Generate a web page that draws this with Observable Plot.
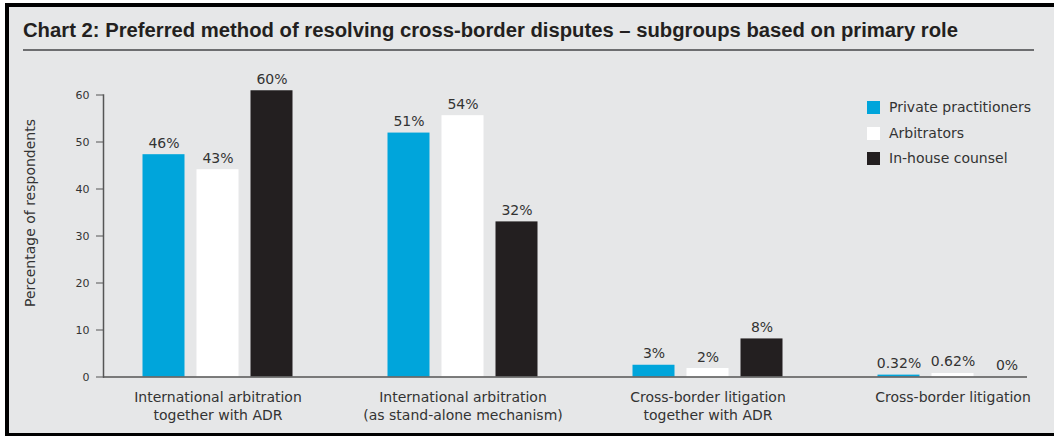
<!DOCTYPE html>
<html><head><meta charset="utf-8">
<script src="https://cdn.jsdelivr.net/npm/d3@7"></script>
<script src="https://cdn.jsdelivr.net/npm/@observablehq/plot@0.6"></script>
<style>
body{margin:0;width:1054px;height:436px;position:relative;background:#fff;overflow:hidden;font-family:"DejaVu Sans",sans-serif;}
#frame{position:absolute;left:5px;top:3px;width:1045px;height:426px;background:#e6e7e8;border-top:4px solid #000;border-left:4px solid #000;border-bottom:3px solid #000;}
#title{position:absolute;left:23px;top:20px;font-family:"Liberation Sans",Arial,sans-serif;font-weight:bold;font-size:20px;line-height:20px;color:#231f20;white-space:nowrap;transform-origin:0 0;}
#rule{position:absolute;left:23px;top:49px;width:1011px;height:2px;background:#6d6e70;}
#chart{position:absolute;left:0;top:0;}
#ylabel{position:absolute;left:30px;top:212.5px;transform:translate(-50%,-50%) rotate(-90deg);white-space:nowrap;font-size:14px;color:#333;}
.leg{position:absolute;left:867px;font-size:14px;color:#333;white-space:nowrap;line-height:14px;}
.leg span.sw{position:absolute;left:0;top:0;width:13px;height:13px;}
.leg span.tx{position:absolute;left:22px;top:-1px;}
</style></head>
<body>
<div id="frame"></div>
<div id="title">Chart 2: Preferred method of resolving cross-border disputes – subgroups based on primary role</div>
<div id="rule"></div>
<div id="chart"></div>
<div id="ylabel">Percentage of respondents</div>
<div id="legend"></div>
<script>
const categories = [
  "International arbitration\ntogether with ADR",
  "International arbitration\n(as stand-alone mechanism)",
  "Cross-border litigation\ntogether with ADR",
  "Cross-border litigation"
];
const series = ["Private practitioners", "Arbitrators", "In-house counsel"];
const seriesColors = ["#00a5db", "#ffffff", "#231f20"];
// bar heights as drawn
const privateValues = [47.3, 51.9, 2.5, 0.4];
const arbitratorValues = [44.1, 55.6, 1.8, 0.75];
const inhouseValues = [60.9, 33.0, 8.1, 0];
// printed labels
const privateLabels = ["46%", "51%", "3%", "0.32%"];
const arbitratorLabels = ["43%", "54%", "2%", "0.62%"];
const inhouseLabels = ["60%", "32%", "8%", "0%"];
const yTicks = [0, 10, 20, 30, 40, 50, 60];

const valueSets = [privateValues, arbitratorValues, inhouseValues];
const labelSets = [privateLabels, arbitratorLabels, inhouseLabels];

const rows = [];
series.forEach((s, i) => categories.forEach((c, j) => rows.push({
  category: c, series: s, index: i, value: valueSets[i][j], label: labelSets[i][j]
})));

const bandWidth = 245, barWidth = 42, step = 54;
const inset = (bandWidth - barWidth) / 2;

const marks = [];
series.forEach((s, i) => {
  const d = rows.filter(r => r.series === s);
  const off = (i - 1) * step;
  marks.push(Plot.barY(d, {x: "category", y: "value", fill: seriesColors[i], insetLeft: inset, insetRight: inset, dx: off}));
  marks.push(Plot.text(d, {x: "category", y: "value", text: "label", dx: off, dy: -7, lineAnchor: "bottom", fontSize: 14, fill: "#333"}));
});

const chart = Plot.plot({
  width: 1054,
  height: 436,
  marginLeft: 103,
  marginRight: 27,
  marginTop: 94.5,
  marginBottom: 59.5,
  style: {background: "transparent", fontFamily: "DejaVu Sans, sans-serif", overflow: "visible"},
  x: {domain: categories, range: [95, 95 + bandWidth * 4], padding: 0, label: null},
  y: {domain: [0, 60], label: null},
  marks: [
    ...marks,
    Plot.ruleY([0], {stroke: "#555", strokeWidth: 1.5}),
    Plot.frame({anchor: "left", stroke: "#555", strokeWidth: 1.5}),
    Plot.axisY({ticks: yTicks, tickSize: 7, tickPadding: 7, fontSize: 11, stroke: "#555", fill: "#333", label: null}),
    Plot.axisX({tickSize: 0, tickPadding: 12, fontSize: 14, lineHeight: 1.3, fill: "#333", label: null})
  ]
});
document.getElementById("chart").appendChild(chart);

const legend = document.getElementById("legend");
series.forEach((s, i) => {
  const el = document.createElement("div");
  el.className = "leg";
  el.style.top = (101 + i * 25.5) + "px";
  el.innerHTML = `<span class="sw" style="background:${seriesColors[i]}"></span><span class="tx">${s}</span>`;
  legend.appendChild(el);
});

const t = document.getElementById("title");
const w = t.getBoundingClientRect().width;
t.style.transform = `scaleX(${935 / w})`;
</script>
</body></html>
